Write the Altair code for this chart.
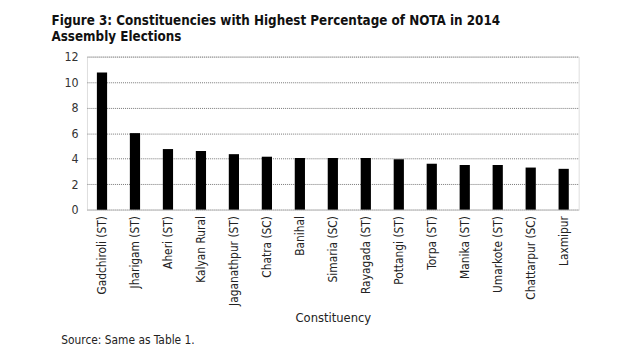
import altair as alt
import pandas as pd

constituencies = ["Gadchiroli (ST)", "Jharigam (ST)", "Aheri (ST)", "Kalyan Rural",
                  "Jaganathpur (ST)", "Chatra (SC)", "Banihal", "Simaria (SC)",
                  "Rayagada (ST)", "Pottangi (ST)", "Torpa (ST)", "Manika (ST)",
                  "Umarkote (ST)", "Chattarpur (SC)", "Laxmipur"]
nota_pct = [10.75, 6.0, 4.75, 4.6, 4.35, 4.15, 4.05, 4.05, 4.05, 3.95, 3.6, 3.5, 3.5, 3.3, 3.2]
y_ticks = [0, 2, 4, 6, 8, 10, 12]
title_lines = ["Figure 3: Constituencies with Highest Percentage of NOTA in 2014",
               "Assembly Elections"]
source_note = ["Source: Same as Table 1."]

FONT = "'DejaVu Sans Condensed', sans-serif"

df = pd.DataFrame({"Constituency": constituencies, "NOTA": nota_pct})

bars = alt.Chart(df).mark_bar(color="black").encode(
    x=alt.X("Constituency:N", sort=constituencies,
            scale=alt.Scale(paddingInner=0.69, paddingOuter=0.3),
            axis=alt.Axis(title="Constituency", labelAngle=-90, labelFontSize=12,
                          labelFont=FONT, labelColor="#222", labelPadding=6,
                          ticks=False, domainColor="#d0d0d0", domainWidth=1.5,
                          titleFont=FONT, titleFontSize=13, titleFontWeight="normal",
                          titleColor="#222", titlePadding=6, labelLimit=200)),
    y=alt.Y("NOTA:Q", scale=alt.Scale(domain=[0, 12]),
            axis=alt.Axis(title=None, values=y_ticks, grid=True, gridDash=[1, 1],
                          gridColor="#777", gridWidth=1, domain=False, ticks=False,
                          labelFont=FONT, labelFontSize=12.5, labelColor="#333",
                          labelPadding=9)),
)

src = alt.Chart(pd.DataFrame({"t": source_note})).mark_text(
    align="left", baseline="middle", font=FONT, fontSize=12, color="#222"
).encode(text="t:N", x=alt.value(-26), y=alt.value(287))

chart = alt.layer(bars, src).properties(
    width=498, height=155,
    autosize=alt.AutoSizeParams(type="none"),
    padding={"left": 80, "top": 47, "right": 54, "bottom": 145},
    title=alt.TitleParams(title_lines, anchor="start", dx=-10, offset=7,
                          font=FONT, fontSize=13.5, fontWeight="bold", color="#111",
                          lineHeight=17),
).configure_view(stroke=None).configure(background="white")

chart.save("out.html", embed_options={"renderer": "svg", "actions": False})
